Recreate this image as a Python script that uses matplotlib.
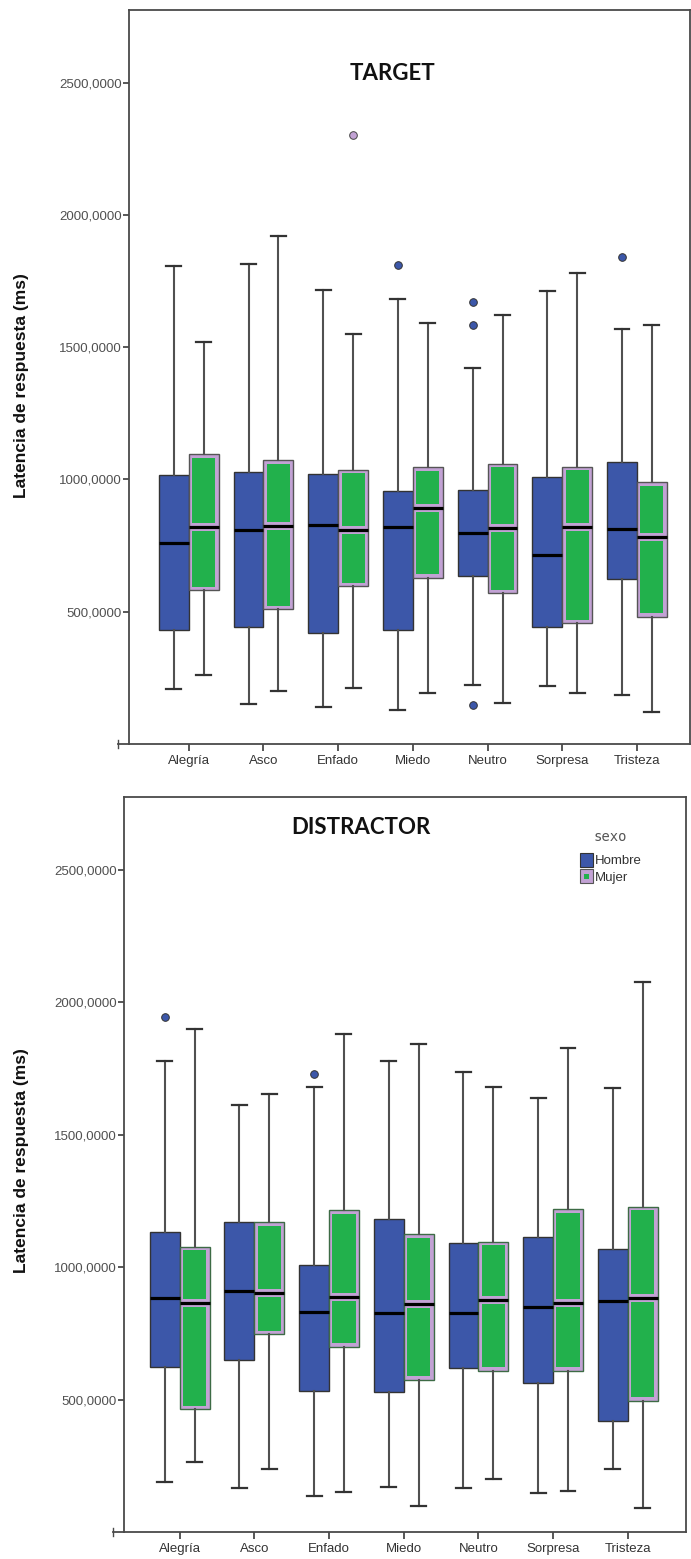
import matplotlib
matplotlib.use("Agg")
import matplotlib.pyplot as plt
import numpy as np
from matplotlib.patches import Rectangle
from matplotlib.legend_handler import HandlerBase

# ---------------- data ----------------
categories = ["Alegría", "Asco", "Enfado", "Miedo", "Neutro", "Sorpresa", "Tristeza"]
yticks = [500, 1000, 1500, 2000, 2500]
ytick_labels = ["500,0000", "1000,0000", "1500,0000", "2000,0000", "2500,0000"]
ylabel = "Latencia de respuesta (ms)"
legend_title = "sexo"
sex_labels = ["Hombre", "Mujer"]

# TARGET - Hombre
t_h_q1 = [432, 442, 418, 431, 636, 441, 625]
t_h_med = [761, 808, 828, 821, 797, 714, 811]
t_h_q3 = [1017, 1028, 1020, 957, 959, 1009, 1067]
t_h_lo = [207, 151, 139, 128, 223, 219, 185]
t_h_hi = [1806, 1813, 1714, 1680, 1421, 1713, 1569]
t_h_out = [[], [], [], [1811], [146, 1583, 1672], [], [1841]]
# TARGET - Mujer
t_m_q1 = [582, 509, 597, 628, 569, 456, 481]
t_m_med = [820, 825, 808, 893, 818, 819, 784]
t_m_q3 = [1095, 1073, 1037, 1046, 1058, 1047, 989]
t_m_lo = [261, 200, 213, 194, 156, 191, 121]
t_m_hi = [1520, 1921, 1549, 1590, 1620, 1780, 1585]
t_m_out = [[], [], [2301], [], [], [], []]

# DISTRACTOR - Hombre
d_h_q1 = [624, 649, 532, 530, 618, 564, 420]
d_h_med = [884, 911, 829, 828, 828, 850, 873]
d_h_q3 = [1131, 1171, 1006, 1181, 1092, 1115, 1069]
d_h_lo = [190, 165, 136, 169, 166, 146, 237]
d_h_hi = [1778, 1610, 1679, 1779, 1736, 1639, 1677]
d_h_out = [[1944], [], [1730], [], [], [], []]
# DISTRACTOR - Mujer
d_m_q1 = [463, 746, 699, 574, 608, 608, 496]
d_m_med = [865, 903, 888, 859, 876, 863, 882]
d_m_q3 = [1077, 1169, 1214, 1124, 1096, 1218, 1228]
d_m_lo = [263, 237, 151, 98, 201, 155, 89]
d_m_hi = [1900, 1652, 1879, 1842, 1679, 1828, 2075]
d_m_out = [[], [], [], [], [], [], []]

# ---------------- style ----------------
BLUE = "#3c57a9"
GREEN = "#22b14c"
LAV = "#c2a2d4"
SPINE = "#4a4a4a"
TICKTXT = "#505050"

W, H = 691, 1559
fig = plt.figure(figsize=(W / 100, H / 100), dpi=100)


def make_stats(q1, med, q3, lo, hi, out):
    return [dict(q1=a, med=b, q3=c, whislo=d, whishi=e, fliers=f)
            for a, b, c, d, e, f in zip(q1, med, q3, lo, hi, out)]


def draw_panel(ax, title, title_xy, h, m, m_edge, xlim):
    x = np.arange(len(categories))
    bw = 0.4
    common = dict(widths=bw, patch_artist=True, showfliers=True, manage_ticks=False,
                  whiskerprops=dict(color="#505050", linewidth=1.5),
                  capprops=dict(color="#333333", linewidth=1.6),
                  medianprops=dict(color="black", linewidth=2.3))
    bh = ax.bxp(make_stats(*h), positions=x - bw / 2,
                boxprops=dict(facecolor=BLUE, edgecolor="#333333", linewidth=1.0),
                flierprops=dict(marker="o", markerfacecolor=BLUE, markeredgecolor="#333333",
                                markersize=5.5, markeredgewidth=0.7),
                **common)
    bm = ax.bxp(make_stats(*m), positions=x + bw / 2,
                boxprops=dict(facecolor=LAV, edgecolor=m_edge, linewidth=1.0),
                flierprops=dict(marker="o", markerfacecolor=LAV, markeredgecolor="#444444",
                                markersize=5.5, markeredgewidth=0.7),
                **common)
    for med in bh["medians"] + bm["medians"]:
        med.set_zorder(4)
    # inner green areas of Mujer boxes
    dx, dy, dmed = 0.045, 13, 15
    q1s, meds, q3s = m[0], m[1], m[2]
    for xi, a, b, c in zip(x + bw / 2, q1s, meds, q3s):
        left = xi - bw / 2 + dx
        wid = bw - 2 * dx
        ax.add_patch(Rectangle((left, a + dy), wid, (b - dmed) - (a + dy),
                               facecolor=GREEN, edgecolor="none", zorder=3))
        ax.add_patch(Rectangle((left, b + dmed), wid, (c - dy) - (b + dmed),
                               facecolor=GREEN, edgecolor="none", zorder=3))

    ax.set_xlim(*xlim)
    ax.set_ylim(0, 2774)
    ax.set_xticks(x)
    ax.set_xticklabels(categories, fontsize=9.5, family="Liberation Sans", color="#333333")
    ax.set_yticks(yticks)
    ax.set_yticklabels(ytick_labels, fontsize=9.5, family="Liberation Sans", color=TICKTXT)
    ax.tick_params(axis="y", length=4, width=1.3, color=SPINE, pad=1)
    ax.tick_params(axis="x", length=5, width=1.3, color=SPINE, pad=3)
    for s in ax.spines.values():
        s.set_color(SPINE)
        s.set_linewidth(1.3)
    ax.text(title_xy[0], title_xy[1], title, transform=ax.transAxes, ha="center", va="center",
            fontsize=16, fontweight="bold", family="Lato", color="#111111")
    # small extension of x axis to the left (SPSS style)
    ext = -11 / (ax.get_position().width * W)
    tk = 4 / (ax.get_position().height * H)
    ax.plot([ext, 0], [0, 0], transform=ax.transAxes, clip_on=False, color=SPINE, lw=1.3)
    ax.plot([ext, ext], [-tk, tk], transform=ax.transAxes, clip_on=False, color=SPINE, lw=1.0)


# top panel
ax1 = fig.add_axes([129 / W, (H - 744) / H, (690 - 129) / W, (744 - 10) / H])
draw_panel(ax1, "TARGET", ((393 - 129) / 561, (744 - 73) / 734),
           (t_h_q1, t_h_med, t_h_q3, t_h_lo, t_h_hi, t_h_out),
           (t_m_q1, t_m_med, t_m_q3, t_m_lo, t_m_hi, t_m_out),
           "#555555", (-0.80, 6.71))

# bottom panel
ax2 = fig.add_axes([124 / W, (H - 1532) / H, (686 - 124) / W, (1532 - 797) / H])
draw_panel(ax2, "DISTRACTOR", ((361 - 124) / 562, (1532 - 828) / 735),
           (d_h_q1, d_h_med, d_h_q3, d_h_lo, d_h_hi, d_h_out),
           (d_m_q1, d_m_med, d_m_q3, d_m_lo, d_m_hi, d_m_out),
           "#3d6b45", (-0.745, 6.78))

# y labels
fig.text(22 / W, (H - 386) / H, ylabel, rotation=90, ha="center", va="center",
         fontsize=12.5, fontweight="bold", family="Liberation Sans", color="#111111")
fig.text(22 / W, (H - 1161) / H, ylabel, rotation=90, ha="center", va="center",
         fontsize=12.5, fontweight="bold", family="Liberation Sans", color="#111111")


# legend
class MujerHandler(HandlerBase):
    def create_artists(self, legend, orig_handle, xdescent, ydescent, width, height, fontsize, trans):
        outer = Rectangle((-xdescent, -ydescent), width, height, facecolor=LAV,
                          edgecolor="#555555", linewidth=0.8, transform=trans)
        inner = Rectangle((-xdescent + width * 0.3, -ydescent + height * 0.3), width * 0.4,
                          height * 0.4, facecolor=GREEN, edgecolor="none", transform=trans)
        return [outer, inner]


class HombreHandler(HandlerBase):
    def create_artists(self, legend, orig_handle, xdescent, ydescent, width, height, fontsize, trans):
        r = Rectangle((-xdescent, -ydescent), width, height, facecolor=BLUE,
                      edgecolor="#333333", linewidth=0.8, transform=trans)
        return [r]


h_handle = Rectangle((0, 0), 1, 1)
m_handle = Rectangle((0, 0), 1, 1)
leg = ax2.legend([h_handle, m_handle], sex_labels,
                 handler_map={h_handle: HombreHandler(), m_handle: MujerHandler()},
                 loc="upper left", bbox_to_anchor=((580 - 124) / 562, (1532 - 853) / 735),
                 frameon=False, borderpad=0, borderaxespad=0, handlelength=0.95,
                 handleheight=1.25, handletextpad=0.2, labelspacing=0.15,
                 prop=dict(family="Liberation Sans", size=9.5))
for t in leg.get_texts():
    t.set_color("#333333")
ax2.text((610 - 124) / 562, (1532 - 837) / 735, legend_title, transform=ax2.transAxes,
         ha="center", va="center", fontsize=10, family="DejaVu Sans Mono", color="#555555")

fig.savefig("out.png", dpi=100)
